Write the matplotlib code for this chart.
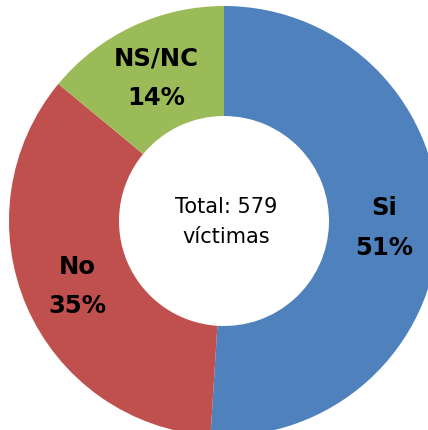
import numpy as np
import matplotlib
matplotlib.use("Agg")
import matplotlib.pyplot as plt

categories = ["Si", "No", "NS/NC"]
shares = [51, 35, 14]
colors = ["#4F81BD", "#C0504D", "#9BBB59"]
center_text = "Total: 579\nvíctimas"

fig = plt.figure(figsize=(4.28, 4.30), dpi=100)
ax = fig.add_axes([0, 0, 1, 1])
cx, cy = 224, 430 - 221
r_out, r_in = 215, 105
wedges, _ = ax.pie(shares, colors=colors, startangle=90, counterclock=False,
                   radius=r_out, center=(cx, cy),
                   wedgeprops=dict(width=r_out - r_in, linewidth=0))
r_lab = (r_out + r_in) / 2
for w, cat, s in zip(wedges, categories, shares):
    ang = np.deg2rad((w.theta1 + w.theta2) / 2)
    ax.text(cx + r_lab * np.cos(ang), cy + r_lab * np.sin(ang) - 2,
            f"{cat}\n{s}%", ha="center", va="center", fontsize=17.5,
            fontweight="bold", linespacing=1.8, color="black",
            family="DejaVu Sans")
ax.text(cx + 2, cy - 1, center_text, ha="center", va="center", fontsize=15,
        linespacing=1.65, color="black", family="DejaVu Sans")
ax.set_xlim(0, 428)
ax.set_ylim(0, 430)
ax.set_aspect("equal")
ax.axis("off")
fig.savefig("out.png", dpi=100)
